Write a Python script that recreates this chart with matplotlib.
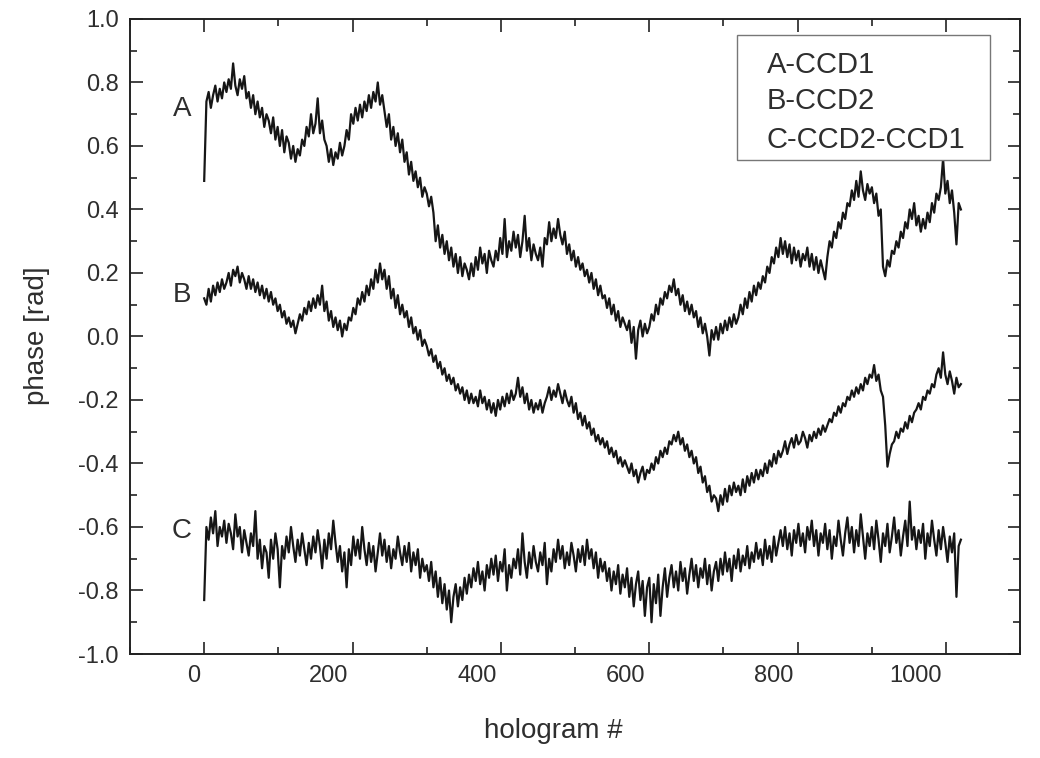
import numpy as np
import matplotlib
matplotlib.use("Agg")
import matplotlib.pyplot as plt
from matplotlib.patches import Rectangle
from matplotlib.ticker import MultipleLocator
import matplotlib.transforms as mtransforms

plt.rcParams['font.family'] = ['Liberation Sans', 'DejaVu Sans']
plt.rcParams['axes.unicode_minus'] = False

# hologram index, sampled every 3 holograms
holograms = np.arange(0, 1021, 3)

# A - CCD1 (phase, rad), one row = 30 holograms
phase_a = [
    0.49, 0.74, 0.77, 0.72, 0.76, 0.79, 0.74, 0.78, 0.75, 0.80,
    0.77, 0.81, 0.78, 0.86, 0.79, 0.76, 0.81, 0.78, 0.82, 0.75,
    0.77, 0.72, 0.76, 0.70, 0.74, 0.69, 0.72, 0.66, 0.70, 0.68,
    0.64, 0.69, 0.62, 0.66, 0.60, 0.65, 0.58, 0.63, 0.61, 0.56,
    0.60, 0.55, 0.59, 0.57, 0.62, 0.60, 0.66, 0.63, 0.70, 0.64,
    0.67, 0.75, 0.64, 0.68, 0.62, 0.60, 0.55, 0.59, 0.54, 0.58,
    0.56, 0.61, 0.57, 0.60, 0.65, 0.62, 0.70, 0.67, 0.72, 0.68,
    0.73, 0.69, 0.74, 0.71, 0.76, 0.72, 0.77, 0.74, 0.80, 0.73,
    0.76, 0.71, 0.66, 0.70, 0.62, 0.66, 0.60, 0.64, 0.58, 0.62,
    0.55, 0.58, 0.51, 0.55, 0.49, 0.52, 0.47, 0.50, 0.44, 0.47,
    0.45, 0.41, 0.44, 0.39, 0.30, 0.35, 0.28, 0.32, 0.26, 0.30,
    0.24, 0.28, 0.22, 0.26, 0.20, 0.25, 0.19, 0.23, 0.21, 0.18,
    0.23, 0.19, 0.25, 0.21, 0.28, 0.23, 0.26, 0.20, 0.27, 0.24,
    0.22, 0.27, 0.24, 0.31, 0.26, 0.37, 0.25, 0.30, 0.27, 0.33,
    0.28, 0.32, 0.25, 0.30, 0.38, 0.27, 0.31, 0.24, 0.29, 0.26,
    0.24, 0.28, 0.22, 0.31, 0.29, 0.36, 0.30, 0.34, 0.31, 0.37,
    0.32, 0.29, 0.33, 0.26, 0.29, 0.24, 0.27, 0.22, 0.25, 0.21,
    0.23, 0.19, 0.21, 0.17, 0.20, 0.15, 0.18, 0.13, 0.16, 0.12,
    0.13, 0.09, 0.12, 0.07, 0.10, 0.05, 0.08, 0.03, 0.06, 0.04,
    0.02, 0.05, -0.02, 0.03, -0.07, 0.02, 0.05, 0.00, 0.04, 0.01,
    0.03, 0.07, 0.05, 0.10, 0.07, 0.12, 0.10, 0.14, 0.12, 0.16,
    0.14, 0.18, 0.13, 0.15, 0.10, 0.13, 0.08, 0.11, 0.07, 0.10,
    0.06, 0.08, 0.03, 0.06, 0.01, 0.04, 0.00, -0.06, 0.02, -0.01,
    0.03, -0.01, 0.04, 0.01, 0.05, 0.02, 0.06, 0.03, 0.07, 0.04,
    0.06, 0.10, 0.07, 0.12, 0.09, 0.14, 0.11, 0.16, 0.13, 0.17,
    0.15, 0.19, 0.17, 0.22, 0.20, 0.25, 0.23, 0.28, 0.25, 0.31,
    0.26, 0.30, 0.25, 0.29, 0.23, 0.28, 0.24, 0.27, 0.22, 0.26,
    0.24, 0.28, 0.22, 0.26, 0.21, 0.25, 0.20, 0.24, 0.21, 0.18,
    0.25, 0.30, 0.28, 0.33, 0.31, 0.36, 0.34, 0.39, 0.37, 0.42,
    0.41, 0.46, 0.43, 0.49, 0.44, 0.52, 0.46, 0.43, 0.48, 0.45,
    0.47, 0.42, 0.45, 0.38, 0.40, 0.22, 0.19, 0.24, 0.22, 0.27,
    0.26, 0.30, 0.28, 0.33, 0.31, 0.36, 0.34, 0.40, 0.37, 0.42,
    0.35, 0.38, 0.33, 0.37, 0.34, 0.39, 0.36, 0.42, 0.39, 0.45,
    0.43, 0.47, 0.56, 0.45, 0.49, 0.42, 0.46, 0.39, 0.29, 0.42,
    0.40,
]

# B - CCD2
phase_b = [
    0.12, 0.10, 0.15, 0.11, 0.16, 0.13, 0.17, 0.14, 0.18, 0.15,
    0.17, 0.20, 0.16, 0.21, 0.19, 0.22, 0.17, 0.20, 0.18, 0.15,
    0.19, 0.15, 0.18, 0.14, 0.17, 0.13, 0.16, 0.12, 0.15, 0.11,
    0.14, 0.10, 0.12, 0.08, 0.10, 0.06, 0.08, 0.04, 0.06, 0.03,
    0.05, 0.01, 0.04, 0.07, 0.05, 0.09, 0.07, 0.11, 0.08, 0.12,
    0.09, 0.13, 0.10, 0.16, 0.08, 0.11, 0.05, 0.08, 0.03, 0.06,
    0.02, 0.05, 0.00, 0.04, 0.02, 0.06, 0.05, 0.09, 0.07, 0.12,
    0.10, 0.14, 0.11, 0.16, 0.13, 0.18, 0.15, 0.21, 0.17, 0.23,
    0.18, 0.21, 0.15, 0.19, 0.12, 0.15, 0.09, 0.13, 0.07, 0.10,
    0.06, 0.08, 0.03, 0.06, 0.01, 0.03, -0.01, 0.02, -0.03, -0.01,
    -0.03, -0.06, -0.04, -0.08, -0.06, -0.10, -0.08, -0.12, -0.10, -0.14,
    -0.12, -0.15, -0.13, -0.17, -0.15, -0.18, -0.16, -0.20, -0.17, -0.21,
    -0.18, -0.21, -0.19, -0.22, -0.17, -0.21, -0.19, -0.23, -0.20, -0.24,
    -0.21, -0.25, -0.20, -0.23, -0.19, -0.22, -0.18, -0.21, -0.17, -0.20,
    -0.18, -0.13, -0.19, -0.16, -0.21, -0.18, -0.23, -0.20, -0.24, -0.21,
    -0.23, -0.20, -0.24, -0.21, -0.19, -0.16, -0.20, -0.17, -0.19, -0.15,
    -0.18, -0.21, -0.17, -0.20, -0.22, -0.19, -0.24, -0.21, -0.26, -0.24,
    -0.28, -0.25, -0.29, -0.27, -0.31, -0.29, -0.33, -0.31, -0.34, -0.32,
    -0.35, -0.33, -0.37, -0.35, -0.38, -0.36, -0.40, -0.38, -0.41, -0.39,
    -0.41, -0.43, -0.40, -0.44, -0.42, -0.46, -0.43, -0.41, -0.45, -0.42,
    -0.43, -0.40, -0.42, -0.38, -0.40, -0.36, -0.38, -0.35, -0.37, -0.33,
    -0.34, -0.31, -0.33, -0.30, -0.34, -0.32, -0.36, -0.34, -0.38, -0.36,
    -0.40, -0.38, -0.43, -0.41, -0.46, -0.44, -0.49, -0.47, -0.52, -0.50,
    -0.51, -0.55, -0.50, -0.53, -0.48, -0.52, -0.47, -0.50, -0.46, -0.49,
    -0.47, -0.50, -0.45, -0.49, -0.44, -0.47, -0.43, -0.46, -0.42, -0.45,
    -0.42, -0.44, -0.40, -0.43, -0.39, -0.41, -0.37, -0.40, -0.36, -0.38,
    -0.36, -0.33, -0.37, -0.34, -0.32, -0.35, -0.31, -0.34, -0.33, -0.30,
    -0.32, -0.35, -0.31, -0.33, -0.30, -0.32, -0.29, -0.31, -0.28, -0.30,
    -0.28, -0.26, -0.27, -0.24, -0.25, -0.22, -0.24, -0.21, -0.22, -0.19,
    -0.20, -0.17, -0.19, -0.16, -0.18, -0.15, -0.17, -0.13, -0.15, -0.12,
    -0.13, -0.09, -0.14, -0.12, -0.17, -0.19, -0.28, -0.41, -0.37, -0.34,
    -0.33, -0.30, -0.32, -0.29, -0.30, -0.27, -0.29, -0.25, -0.27, -0.24,
    -0.23, -0.21, -0.23, -0.19, -0.20, -0.17, -0.18, -0.15, -0.16, -0.12,
    -0.10, -0.13, -0.05, -0.12, -0.15, -0.11, -0.14, -0.18, -0.13, -0.16,
    -0.15,
]

# C - CCD2-CCD1
phase_c = [
    -0.83, -0.60, -0.64, -0.57, -0.62, -0.55, -0.66, -0.60, -0.63, -0.58,
    -0.65, -0.59, -0.62, -0.67, -0.56, -0.63, -0.60, -0.68, -0.61, -0.65,
    -0.69, -0.62, -0.66, -0.55, -0.70, -0.64, -0.73, -0.66, -0.68, -0.76,
    -0.64, -0.70, -0.62, -0.67, -0.79, -0.66, -0.70, -0.63, -0.68, -0.60,
    -0.66, -0.71, -0.64, -0.69, -0.62, -0.67, -0.72, -0.65, -0.70, -0.63,
    -0.68, -0.61, -0.66, -0.73, -0.64, -0.70, -0.62, -0.67, -0.58, -0.65,
    -0.71, -0.66, -0.74, -0.68, -0.79, -0.67, -0.72, -0.63, -0.69, -0.64,
    -0.70, -0.60, -0.67, -0.72, -0.65, -0.71, -0.66, -0.74, -0.68, -0.62,
    -0.69, -0.64, -0.71, -0.66, -0.73, -0.67, -0.70, -0.63, -0.68, -0.72,
    -0.66, -0.71, -0.65, -0.74, -0.68, -0.72, -0.67, -0.76, -0.70, -0.74,
    -0.72, -0.77, -0.71, -0.79, -0.74, -0.82, -0.76, -0.84, -0.78, -0.86,
    -0.80, -0.90, -0.82, -0.78, -0.85, -0.79, -0.83, -0.76, -0.81, -0.75,
    -0.79, -0.73, -0.77, -0.71, -0.78, -0.74, -0.80, -0.72, -0.76, -0.70,
    -0.75, -0.69, -0.77, -0.71, -0.74, -0.67, -0.80, -0.72, -0.76, -0.70,
    -0.73, -0.67, -0.75, -0.62, -0.71, -0.76, -0.68, -0.73, -0.66, -0.71,
    -0.74, -0.68, -0.72, -0.65, -0.78, -0.70, -0.74, -0.67, -0.71, -0.64,
    -0.70, -0.66, -0.73, -0.68, -0.72, -0.65, -0.69, -0.74, -0.67, -0.71,
    -0.66, -0.72, -0.64, -0.70, -0.67, -0.73, -0.68, -0.76, -0.70, -0.74,
    -0.71, -0.77, -0.73, -0.80, -0.74, -0.78, -0.72, -0.81, -0.75, -0.79,
    -0.73, -0.82, -0.76, -0.85, -0.78, -0.74, -0.83, -0.77, -0.88, -0.79,
    -0.76, -0.90, -0.78, -0.84, -0.75, -0.88, -0.79, -0.73, -0.82, -0.76,
    -0.72, -0.79, -0.74, -0.80, -0.71, -0.77, -0.73, -0.81, -0.75, -0.70,
    -0.77, -0.72, -0.79, -0.73, -0.76, -0.70, -0.78, -0.72, -0.80, -0.74,
    -0.71, -0.77, -0.70, -0.75, -0.68, -0.74, -0.70, -0.77, -0.69, -0.73,
    -0.67, -0.74, -0.69, -0.72, -0.66, -0.73, -0.68, -0.71, -0.65, -0.70,
    -0.67, -0.72, -0.64, -0.70, -0.66, -0.71, -0.63, -0.69, -0.65, -0.61,
    -0.66, -0.60, -0.67, -0.62, -0.69, -0.61, -0.65, -0.59, -0.66, -0.62,
    -0.68, -0.60, -0.64, -0.58, -0.66, -0.61, -0.69, -0.62, -0.65, -0.59,
    -0.67, -0.61, -0.70, -0.63, -0.66, -0.58, -0.64, -0.69, -0.62, -0.57,
    -0.65, -0.60, -0.68, -0.61, -0.66, -0.56, -0.63, -0.70, -0.62, -0.66,
    -0.60, -0.67, -0.58, -0.64, -0.71, -0.62, -0.66, -0.59, -0.68, -0.63,
    -0.57, -0.65, -0.61, -0.69, -0.63, -0.58, -0.66, -0.52, -0.64, -0.60,
    -0.67, -0.61, -0.65, -0.59, -0.70, -0.62, -0.66, -0.58, -0.64, -0.69,
    -0.61, -0.67, -0.60, -0.65, -0.71, -0.63, -0.68, -0.62, -0.82, -0.66,
    -0.64,
]

curve_labels = ['A', 'B', 'C']
legend_lines = ['A-CCD1', 'B-CCD2', 'C-CCD2-CCD1']

fig = plt.figure(figsize=(10.4, 7.58), dpi=100)
ax = fig.add_axes([0.125, 0.1372, 0.856, 0.8378])

line_col = '#161616'
for ys in (phase_a, phase_b, phase_c):
    ax.plot(holograms, ys, color=line_col, lw=1.6)

ax.set_xlim(-100, 1100)
ax.set_ylim(-1.0, 1.0)
ax.xaxis.set_major_locator(MultipleLocator(200))
ax.xaxis.set_minor_locator(MultipleLocator(100))
ax.yaxis.set_major_locator(MultipleLocator(0.2))
ax.yaxis.set_minor_locator(MultipleLocator(0.1))
ax.yaxis.set_major_formatter(matplotlib.ticker.FormatStrFormatter('%.1f'))

ax.tick_params(which='both', direction='in', top=True, right=True,
               color='#222222', width=1.2)
ax.tick_params(which='major', length=9)
ax.tick_params(which='minor', length=5)
ax.tick_params(axis='x', which='major', labelsize=17, pad=8, labelcolor='#2e2e2e')
ax.tick_params(axis='y', which='major', labelsize=17, pad=8, labelcolor='#2e2e2e')

# x tick labels sit right-aligned next to the ticks in the original
shift = mtransforms.ScaledTranslation(-3 / 72, 0, fig.dpi_scale_trans)
for lab in ax.get_xticklabels():
    lab.set_horizontalalignment('right')
    lab.set_transform(lab.get_transform() + shift)

for sp in ax.spines.values():
    sp.set_linewidth(1.4)
    sp.set_color('#222222')

ax.set_xlabel('hologram #', fontsize=20, color='#2e2e2e')
ax.xaxis.set_label_coords(0.475, -0.1)
ax.set_ylabel('phase [rad]', fontsize=20, color='#2e2e2e')
ax.yaxis.set_label_coords(-0.09, 0.502)

# curve letters
for lab, yv in zip(curve_labels, [0.715, 0.13, -0.614]):
    ax.text(-30, yv, lab, fontsize=20, color='#2e2e2e', ha='center', va='center')

# legend box (text only)
ax.add_patch(Rectangle((0.682, 0.778), 0.284, 0.197, transform=ax.transAxes,
                       facecolor='white', edgecolor='#777777', lw=1.0, zorder=5))
for txt, yy in zip(legend_lines, [0.928, 0.871, 0.809]):
    ax.text(0.715, yy, txt, transform=ax.transAxes, fontsize=21, color='#2e2e2e',
            ha='left', va='center', zorder=6)

fig.savefig('out.png', dpi=100, facecolor='white')
